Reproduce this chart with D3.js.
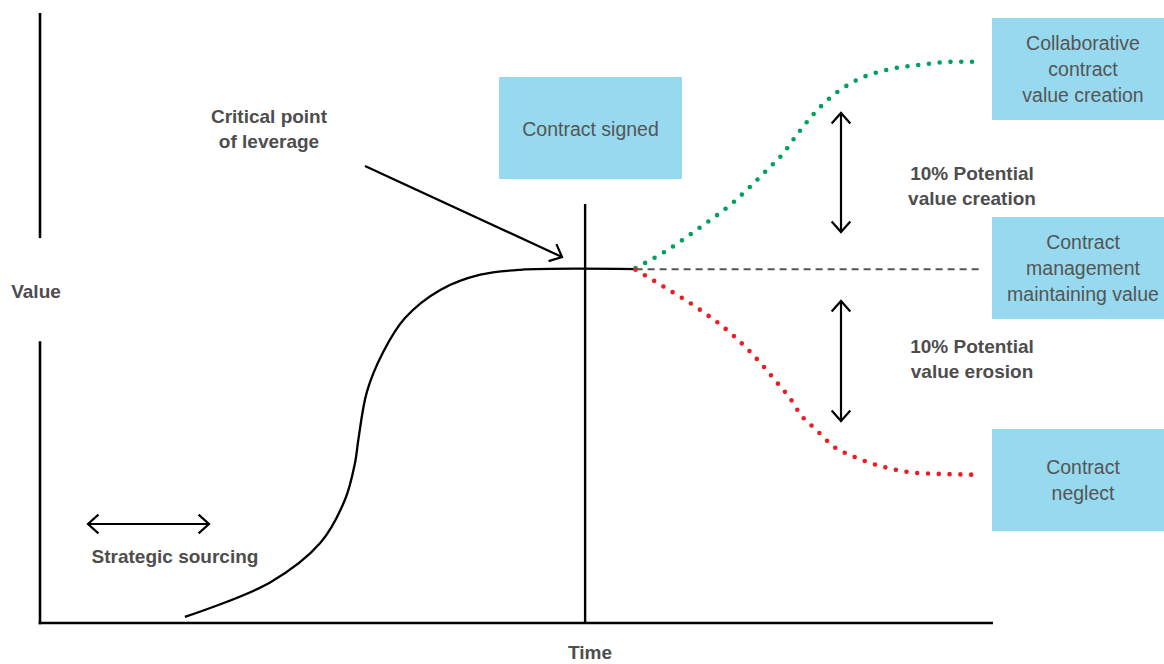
<!DOCTYPE html>
<html>
<head>
<meta charset="utf-8">
<script src="https://cdn.jsdelivr.net/npm/d3@7"></script>
<style>
  body { margin: 0; background: #fff; }
  .label { font-family: "Liberation Sans", Arial, sans-serif; font-weight: bold; font-size: 19px; fill: #4d4d4d; }
  .box-text { font-family: "Liberation Sans", Arial, sans-serif; font-size: 19.5px; fill: #555; }
</style>
</head>
<body>
<div id="chart"></div>
<script>
// value curve before signing (time, value)
var mainTime  = [15.2, 24.1, 29.4, 32.0, 33.05, 33.4, 34.3, 36.0, 38.3, 42.0, 46.2, 50.4, 62.5];
var mainValue = [1.0, 6.6, 13.1, 20.2, 26.2, 30.0, 37.9, 44.4, 50.0, 54.6, 57.1, 57.9, 58.0];

// collaborative value creation (green dots)
var creationTime  = [62.5, 65.8, 69.3, 72.7, 76.3, 78.0, 79.4, 81.1, 82.9, 85.7, 88.9, 92.3, 95.8, 98.9];
var creationValue = [58.2, 61.1, 64.9, 68.9, 74.3, 77.0, 80.0, 83.3, 86.1, 89.0, 90.7, 91.5, 92.0, 92.0];

// contract neglect (red dots)
var erosionTime  = [62.5, 65.8, 69.3, 72.7, 74.3, 75.9, 77.4, 78.9, 79.7, 81.5, 83.2, 85.2, 88.5, 92.0, 95.5, 98.4];
var erosionValue = [57.9, 54.8, 51.3, 47.2, 44.8, 42.1, 39.3, 36.4, 34.4, 31.6, 29.0, 27.4, 25.6, 24.6, 24.4, 24.3];

// maintaining value (dashed)
var maintainTime  = [62.5, 99.0];
var maintainValue = [58.0, 58.0];

var signedTime = 57.2;
var signedTop = 68.7;

var width = 1164, height = 664;

var svg = d3.select("#chart")
    .append("svg")
    .attr("width", width)
    .attr("height", height);

var xScale = d3.scaleLinear().domain([0, 100]).range([40, 993]),
    yScale = d3.scaleLinear().domain([0, 100]).range([623, 13]);

function zipPts(xs, ys) {
    return xs.map(function (x, i) { return {t: x, v: ys[i]}; });
}

var line = d3.line()
    .curve(d3.curveMonotoneX)
    .x(function (d) { return xScale(d.t); })
    .y(function (d) { return yScale(d.v); });

var smoothLine = d3.line()
    .curve(d3.curveCatmullRom.alpha(0.5))
    .x(function (d) { return xScale(d.t); })
    .y(function (d) { return yScale(d.v); });

// axes (y axis has a gap for the label)
var axes = svg.append("g").attr("stroke", "#000").attr("stroke-width", 2.6);
axes.append("line")
    .attr("x1", xScale(0)).attr("x2", xScale(0))
    .attr("y1", yScale(100)).attr("y2", yScale(63.1));
axes.append("line")
    .attr("x1", xScale(0)).attr("x2", xScale(0))
    .attr("y1", yScale(46.2)).attr("y2", yScale(0) + 1.3);
axes.append("line")
    .attr("x1", xScale(0) - 1.3).attr("x2", xScale(100))
    .attr("y1", yScale(0)).attr("y2", yScale(0));

// contract signed marker
svg.append("line")
    .attr("x1", xScale(signedTime)).attr("x2", xScale(signedTime))
    .attr("y1", yScale(signedTop)).attr("y2", yScale(0))
    .attr("stroke", "#000").attr("stroke-width", 2.4);

// dashed line
svg.append("path")
    .datum(zipPts(maintainTime, maintainValue))
    .attr("d", d3.line().x(function (d) { return xScale(d.t); }).y(function (d) { return yScale(d.v); }))
    .attr("fill", "none")
    .attr("stroke", "#555")
    .attr("stroke-width", 2)
    .attr("stroke-dasharray", "7,5");

// main value curve
svg.append("path")
    .datum(zipPts(mainTime, mainValue))
    .attr("d", smoothLine)
    .attr("fill", "none")
    .attr("stroke", "#000")
    .attr("stroke-width", 2.3);

// dotted curves
svg.append("path")
    .datum(zipPts(creationTime, creationValue))
    .attr("d", line)
    .attr("fill", "none")
    .attr("stroke", "#00a05e")
    .attr("stroke-width", 4.6)
    .attr("stroke-linecap", "round")
    .attr("stroke-dasharray", "0,10.8");

svg.append("path")
    .datum(zipPts(erosionTime, erosionValue))
    .attr("d", line)
    .attr("fill", "none")
    .attr("stroke", "#ec1c24")
    .attr("stroke-width", 4.6)
    .attr("stroke-linecap", "round")
    .attr("stroke-dasharray", "0,10.8");

// arrows with open chevron heads
function chevron(g, tx, ty, angle) {
    // angle = direction the arrow points, radians
    var len = 14, spread = Math.PI / 4.3;
    var p = [
        [tx - len * Math.cos(angle - spread), ty - len * Math.sin(angle - spread)],
        [tx, ty],
        [tx - len * Math.cos(angle + spread), ty - len * Math.sin(angle + spread)]
    ];
    g.append("path")
        .attr("d", d3.line()(p))
        .attr("fill", "none");
}

function arrow(x1, y1, x2, y2, both) {
    var g = svg.append("g").attr("stroke", "#000").attr("stroke-width", 2.2);
    g.append("line").attr("x1", x1).attr("y1", y1).attr("x2", x2).attr("y2", y2);
    var a = Math.atan2(y2 - y1, x2 - x1);
    chevron(g, x2, y2, a);
    if (both) chevron(g, x1, y1, a + Math.PI);
}

arrow(365, 166, 562, 257, false);
arrow(88, 524, 209, 524, true);
arrow(841, 113, 841, 232, true);
arrow(841, 301, 841, 421, true);

// boxes
var boxes = [
    {x: 499, y: 77, w: 183, h: 102, lines: ["Contract signed"], cy: 129},
    {x: 992, y: 18, w: 182, h: 102, lines: ["Collaborative", "contract", "value creation"], cy: 69},
    {x: 992, y: 217, w: 182, h: 102, lines: ["Contract", "management", "maintaining value"], cy: 268},
    {x: 992, y: 429, w: 182, h: 102, lines: ["Contract", "neglect"], cy: 480}
];

boxes.forEach(function (b) {
    svg.append("rect")
        .attr("x", b.x).attr("y", b.y)
        .attr("width", b.w).attr("height", b.h)
        .attr("fill", "#97d9ee");
    var n = b.lines.length;
    b.lines.forEach(function (t, i) {
        svg.append("text")
            .attr("class", "box-text")
            .attr("x", b.x + b.w / 2)
            .attr("y", b.cy + (i - (n - 1) / 2) * 26 + 7)
            .attr("text-anchor", "middle")
            .text(t);
    });
});

// labels
var labels = [
    {x: 36, y: 298, t: "Value"},
    {x: 269, y: 123, t: "Critical point"},
    {x: 269, y: 148, t: "of leverage"},
    {x: 175, y: 563, t: "Strategic sourcing"},
    {x: 590, y: 659, t: "Time"},
    {x: 972, y: 180, t: "10% Potential"},
    {x: 972, y: 205, t: "value creation"},
    {x: 972, y: 353, t: "10% Potential"},
    {x: 972, y: 378, t: "value erosion"}
];

svg.selectAll(".label")
    .data(labels)
    .enter().append("text")
    .attr("class", "label")
    .attr("x", function (d) { return d.x; })
    .attr("y", function (d) { return d.y; })
    .attr("text-anchor", "middle")
    .text(function (d) { return d.t; });
</script>
</body>
</html>
